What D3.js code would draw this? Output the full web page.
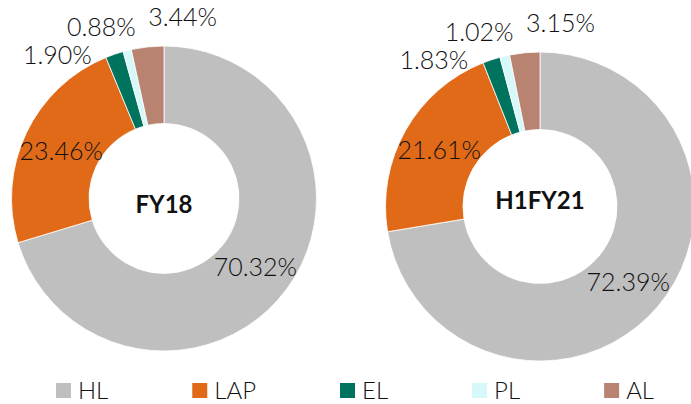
<!DOCTYPE html>
<html>
<head>
	<meta charset="utf-8">
	<title>Loan mix</title>
	<script src="https://d3js.org/d3.v7.min.js"></script>
	<style>
		body { margin: 0; background: #fff; }
		svg text { font-family: Lato, "Noto Sans", sans-serif; fill: #111; }
	</style>
</head>
<body>
<script>
	// data
	var categories = ['HL', 'LAP', 'EL', 'PL', 'AL'];
	var periods = ['FY18', 'H1FY21'];
	var fy18 = [70.32, 23.46, 1.90, 0.88, 3.44];
	var h1fy21 = [72.39, 21.61, 1.83, 1.02, 3.15];
	var colors = ['#bfbfbf', '#e06a17', '#00735f', '#d6f8f8', '#b88471'];

	// layout of the two donuts (each was its own chart)
	var charts = [
		{ name: periods[0], values: fy18, cx: 164, cy: 198.5, outer: 152.5, inner: 75, titleDy: 4.5 },
		{ name: periods[1], values: h1fy21, cx: 540, cy: 206.5, outer: 154.5, inner: 77, titleDy: -7.5 }
	];
	// small slices get their labels pushed outside: [angle shift in deg, px beyond outer edge]
	var outsideNudge = { EL: [-17.5, 27], PL: [-6, 31], AL: [12, 31] };

	var width = 691, height = 404;
	var svg = d3.select('body').append('svg')
		.attr('width', width)
		.attr('height', height);

	var color = d3.scaleOrdinal().domain(categories).range(colors);
	var pie = d3.pie().sort(null).value(function(d) { return d.value; });

	charts.forEach(function(c) {
		var rows = categories.map(function(k, i) { return { key: k, value: c.values[i] }; });
		var arcs = pie(rows);
		var arc = d3.arc().innerRadius(c.inner).outerRadius(c.outer);
		var g = svg.append('g').attr('transform', 'translate(' + c.cx + ',' + c.cy + ')');

		g.selectAll('path')
			.data(arcs)
			.enter()
			.append('path')
			.attr('d', arc)
			.attr('fill', function(d) { return color(d.data.key); })
			.attr('stroke', '#fff')
			.attr('stroke-width', 0.8);

		g.selectAll('.pct')
			.data(arcs)
			.enter()
			.append('text')
			.attr('class', 'pct')
			.attr('text-anchor', 'middle')
			.attr('dominant-baseline', 'central')
			.attr('font-size', 25)
			.attr('font-weight', 300)
			.attr('transform', function(d) {
				var nudge = outsideNudge[d.data.key];
				if (!nudge) return 'translate(' + arc.centroid(d) + ')';
				var mid = (d.startAngle + d.endAngle) / 2 + nudge[0] * Math.PI / 180;
				var r = c.outer + nudge[1];
				var p = d3.arc().innerRadius(r).outerRadius(r).centroid({ startAngle: mid, endAngle: mid });
				return 'translate(' + p + ')';
			})
			.text(function(d) { return d.data.value.toFixed(2) + '%'; });

		g.append('text')
			.attr('text-anchor', 'middle')
			.attr('dominant-baseline', 'central')
			.attr('y', c.titleDy)
			.attr('font-size', 24)
			.attr('font-weight', 'bold')
			.text(c.name);
	});

	// legend along the bottom, items spaced by their text width
	var legend = svg.append('g').attr('transform', 'translate(56,383)');
	var x = 0;
	categories.forEach(function(k) {
		var item = legend.append('g').attr('transform', 'translate(' + x + ',0)');
		item.append('rect')
			.attr('width', 15)
			.attr('height', 15)
			.attr('fill', color(k));
		var t = item.append('text')
			.attr('x', 22)
			.attr('y', 15.5)
			.attr('font-size', 24)
			.attr('font-weight', 300)
			.text(k);
		x += 22 + t.node().getComputedTextLength() + 84;
	});
</script>
</body>
</html>
